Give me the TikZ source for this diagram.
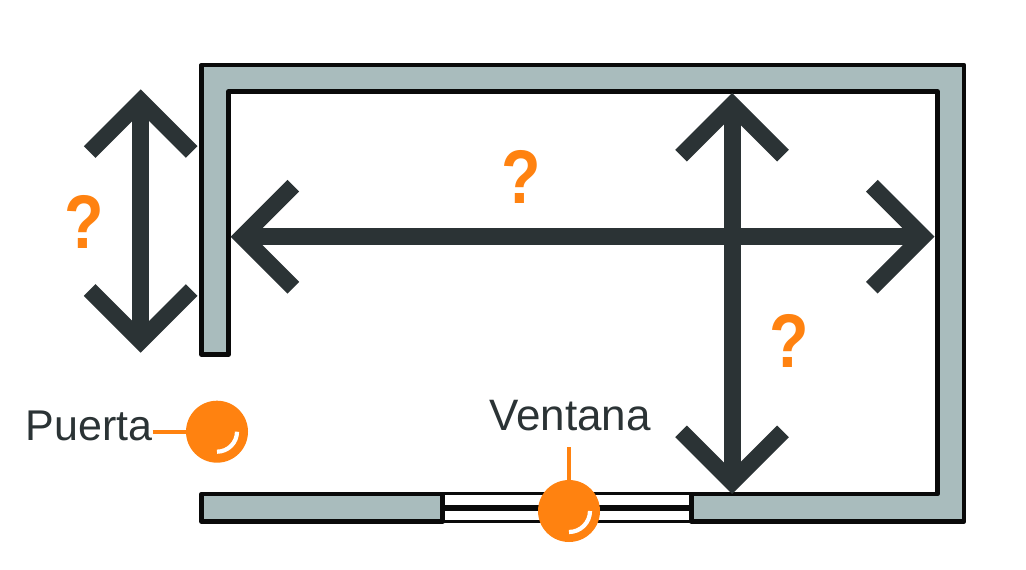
\documentclass[tikz,border=0pt]{standalone}
\usepackage{fontspec}
\setmainfont{Liberation Sans}
\usepackage{graphicx}
\usepackage{xcolor}
\usetikzlibrary{arrows.meta}
\usetikzlibrary{calc}
\definecolor{wallgrey}{HTML}{A9BCBD}
\definecolor{wallline}{HTML}{0A0A0A}
\definecolor{darkarrow}{HTML}{2B3335}
\definecolor{dotorange}{HTML}{FF8210}
\newcommand{\askmark}{\scalebox{.85}[1]{\bfseries ?}}
\tikzset{
    wall/.style={draw=wallline, fill=wallgrey, line width=4.8pt, line join=round},
    glass/.style={draw=wallline},
    measure/.style={draw=darkarrow, line width=17pt,
        {Straight Barb[length=51pt,width=102pt,line width=16.5pt]}-{Straight Barb[length=51pt,width=102pt,line width=16.5pt]}},
    dot/.style={circle, fill=dotorange, minimum size=62pt, inner sep=0pt},
    glint/.style={draw=white, line width=4.2pt},
    leader/.style={draw=dotorange, line width=4pt},
    query/.style={text=dotorange, font=\fontsize{76}{76}\selectfont, inner sep=0pt},
    tag/.style={text=darkarrow, font=\fontsize{44}{44}\selectfont, inner sep=0pt}
}
\begin{document}
\begin{tikzpicture}[x=1pt,y=-1pt]
    \useasboundingbox (0,0) rectangle (1026,570);

    % window panes
    \coordinate (paneleft) at (442,0);
    \coordinate (paneright) at (692,0);
    \draw[glass, line width=3.2pt] (paneleft |- 0,493.5) -- (paneright |- 0,493.5);
    \draw[glass, line width=5.5pt] (paneleft |- 0,508) -- (paneright |- 0,508);
    \draw[glass, line width=3.2pt] (paneleft |- 0,521.5) -- (paneright |- 0,521.5);

    % walls
    \draw[wall] (201.5,354.5) -- (201.5,65) -- (964,65) -- (964,521.5) -- (691.5,521.5)
        -- (691.5,494) -- (937.5,494) -- (937.5,91.7) -- (228.5,91.7) -- (228.5,354.5) -- cycle;
    \draw[wall] (201.5,494) rectangle (442.5,521.5);

    % measures
    \coordinate (doortop) at (140.7,89.3);
    \coordinate (doorbottom) at (140.7,352.7);
    \coordinate (widthleft) at (230.7,236.7);
    \coordinate (widthright) at (934.5,236.7);
    \coordinate (depthtop) at (732,93);
    \coordinate (depthbottom) at (732,494);
    \draw[measure] (doortop) -- (doorbottom);
    \draw[measure] (depthtop) -- (depthbottom);
    \draw[measure] (widthleft) -- (widthright);

    \node[query] (querydoor) at (84,222) {\askmark};
    \node[query] (querywidth) at (521.5,177) {\askmark};
    \node[query] (querydepth) at (789,341) {\askmark};

    % labels
    \node[dot] (puertadot) at (217,431.7) {};
    \node[dot] (ventanadot) at (569,511) {};
    \node[tag, font=\fontsize{43}{43}\selectfont, anchor=base east] (puerta) at (152.5,440) {Puerta};
    \node[tag, anchor=base] (ventana) at (570,430) {Ventana};
    \coordinate (ventanatick) at (569,447);
    \draw[leader] (puerta.east |- puertadot) -- (puertadot);
    \draw[leader] (ventanatick) -- (ventanadot);
    \draw[glint] ($(puertadot)+(20,0)$) arc[start angle=0, end angle=90, radius=20];
    \draw[glint] ($(ventanadot)+(21,0)$) arc[start angle=0, end angle=90, radius=21];
\end{tikzpicture}
\end{document}
